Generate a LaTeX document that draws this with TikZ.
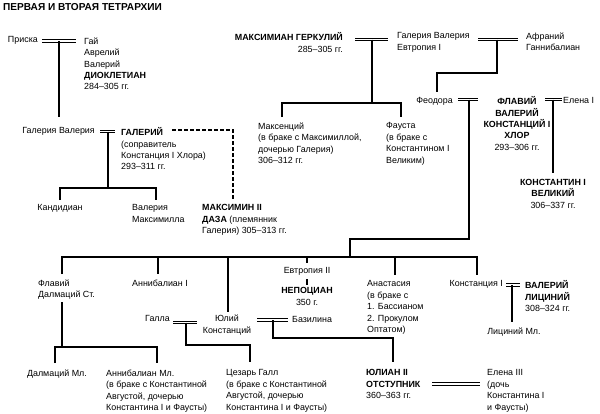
\documentclass[tikz,border=0pt]{standalone}
\usepackage{fontspec}
\setmainfont{Liberation Sans}
\usetikzlibrary{positioning}

\tikzset{
  person/.style={inner sep=0pt, align=left, font=\fontsize{8.9}{11.4}\selectfont},
  wed/.style={double, double distance=1.3pt, line width=1.2pt},
  kin/.style={line width=1.4pt},
  nephew/.style={kin, dash pattern=on 3.5pt off 2.5pt}
}

\begin{document}
\begin{tikzpicture}[x=1pt,y=-1pt]
\useasboundingbox (0,0) rectangle (600,413);
\node[anchor=north west, inner sep=0pt, font=\fontsize{10.1}{12}\selectfont\bfseries] (title) at (3,3) {ПЕРВАЯ И ВТОРАЯ ТЕТРАРХИИ};

% first tetrarchy
\node[person, anchor=north east] (priska) at (38,36.5) {Приска};
\node[person, anchor=north west] (dio) at (84,37.5) {Гай\\Аврелий\\Валерий\\\textbf{ДИОКЛЕТИАН}\\284–305 гг.};
\node[person, anchor=north east, align=right] (maxher) at (343,32.5) {\textbf{МАКСИМИАН ГЕРКУЛИЙ}\\285–305 гг.};
\node[person, anchor=north west] (galval2) at (397,32.5) {Галерия Валерия\\Евтропия I};
\node[person, anchor=north west] (afran) at (526,32.5) {Афраний\\Ганнибалиан};
\node[person, anchor=north east] (galval1) at (95,127.5) {Галерия Валерия};
\node[person, anchor=north west] (galer) at (121,127.5) {\textbf{ГАЛЕРИЙ}\\(соправитель\\Констанция I Хлора)\\293–311 гг.};
\node[person, anchor=north] (kand) at (60,204.5) {Кандидиан};
\node[person, anchor=north west] (valmax) at (132,204.5) {Валерия\\Максимилла};
\node[person, anchor=north west] (maximin) at (202,204.5) {\textbf{МАКСИМИН II}\\\textbf{ДАЗА} (племянник\\Галерия) 305–313 гг.};
\node[person, anchor=north west] (maxent) at (258,122.5) {Максенций\\(в браке с Максимиллой,\\дочерью Галерия)\\306–312 гг.};
\node[person, anchor=north west] (fausta) at (386,122.5) {Фауста\\(в браке с\\Константином I\\Великим)};
\node[person, anchor=north east] (feod) at (453,97.5) {Феодора};
\node[person, anchor=north, align=center] (chlor) at (517,96.5) {\textbf{ФЛАВИЙ}\\\textbf{ВАЛЕРИЙ}\\\textbf{КОНСТАНЦИЙ I}\\\textbf{ХЛОР}\\293–306 гг.};
\node[person, anchor=north west] (elena1) at (563,97.5) {Елена I};
\node[person, anchor=north, align=center] (const1) at (553,179) {\textbf{КОНСТАНТИН I}\\\textbf{ВЕЛИКИЙ}\\306–337 гг.};

% second generation
\node[person, anchor=north west] (dalmst) at (38,279.5) {Флавий\\Далмаций Ст.};
\node[person, anchor=north] (annib1) at (160,279.5) {Аннибалиан I};
\node[person, anchor=north] (eutr2) at (307,267.5) {Евтропия II};
\node[person, anchor=north, align=center] (nepot) at (307,287.5) {\textbf{НЕПОЦИАН}\\350 г.};
\node[person, anchor=north west] (anast) at (367,280.5) {Анастасия\\(в браке с\\1. Бассианом\\2. Прокулом\\Оптатом)};
\node[person, anchor=north east] (constia) at (503,280.5) {Констанция I};
\node[person, anchor=north west] (licin) at (525,280.5) {\textbf{ВАЛЕРИЙ}\\\textbf{ЛИЦИНИЙ}\\308–324 гг.};
\node[person, anchor=north] (licmin) at (514,327.5) {Лициний Мл.};
\node[person, anchor=north east] (galla) at (170,315.5) {Галла};
\node[person, anchor=north, align=center] (julcon) at (227,315) {Юлий\\Констанций};
\node[person, anchor=north west] (basil) at (292,316) {Базилина};
\node[person, anchor=north] (dalmmin) at (57,369.5) {Далмаций Мл.};
\node[person, anchor=north west] (annibmin) at (106,369.5) {Аннибалиан Мл.\\(в браке с Константиной\\Августой, дочерью\\Константина I и Фаусты)};
\node[person, anchor=north west] (gall) at (226,369.5) {Цезарь Галл\\(в браке с Константиной\\Августой, дочерью\\Константина I и Фаусты)};
\node[person, anchor=north west] (julian) at (366,369.5) {\textbf{ЮЛИАН II}\\\textbf{ОТСТУПНИК}\\360–363 гг.};
\node[person, anchor=north west] (elena3) at (487,369.5) {Елена III\\(дочь\\Константина I\\и Фаусты)};

% marriages
\coordinate (w1) at (59,41);
\coordinate (w2) at (372,39.5);
\coordinate (w3) at (497,39.5);
\coordinate (w4) at (108,131.5);
\coordinate (w5) at (469,99.5);
\coordinate (w6) at (553,99.5);
\coordinate (w7) at (512,285);
\coordinate (w8) at (186,322.5);
\coordinate (w9) at (273,320);
\draw[wed] (42,41) -- (76,41);
\draw[wed] (355,39.5) -- (388,39.5);
\draw[wed] (478,39.5) -- (518,39.5);
\draw[wed] (100,131.5) -- (115,131.5);
\draw[wed] (458,99.5) -- (478,99.5);
\draw[wed] (545,99.5) -- (562,99.5);
\draw[wed] (506,285) -- (520,285);
\draw[wed] (173,322.5) -- (197,322.5);
\draw[wed] (257,320) -- (288,320);
\draw[wed] (432,384) -- (480,384);

% descent
\draw[kin] (w1) -- (59,117);
\draw[kin] (w4) -- (108,188);
\draw[kin] (60,200) -- (60,188) -- (156,188) -- (156,200);
\draw[nephew] (172,130) -- (233,130) -- (233,200);
\draw[kin] (w2) -- (372,103);
\draw[kin] (282,117) -- (282,103) -- (401,103) -- (401,117);
\draw[kin] (w3) -- (497,73) -- (437,73) -- (437,92);
\draw[kin] (w6) -- (553,173);
\draw[kin] (w5) -- (469,239) -- (350,239) -- (350,257);
\draw[kin] (62,274) -- (62,257) -- (477,257) -- (477,275);
\draw[kin] (158,257) -- (158,274);
\draw[kin] (228,257) -- (228,312);
\draw[kin] (307,257) -- (307,263);
\draw[kin] (395,257) -- (395,275);
\draw[kin] (307,279) -- (307,285);
\draw[kin] (w7) -- (512,322);
\draw[kin] (62,302) -- (62,347);
\draw[kin] (55,363) -- (55,347) -- (157,347) -- (157,363);
\draw[kin] (w8) -- (186,345) -- (250,345) -- (250,362);
\draw[kin] (w9) -- (273,338) -- (393,338) -- (393,362);
\end{tikzpicture}
\end{document}
